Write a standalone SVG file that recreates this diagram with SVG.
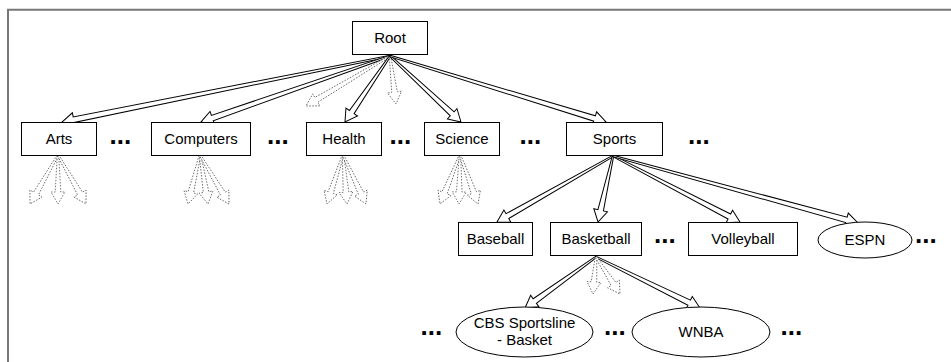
<svg xmlns="http://www.w3.org/2000/svg" width="951" height="362" viewBox="0 0 951 362">
<style>
  .box { fill: #fff; stroke: #000; stroke-width: 1; }
  .lbl { font-family: "Liberation Sans", Arial, sans-serif; font-size: 15px; fill: #000; text-anchor: middle; }
  .dots { font-family: "Liberation Sans", Arial, sans-serif; font-size: 26px; font-weight: bold; fill: #000; }
  .arr { fill: #fff; stroke: #000; stroke-width: 1; stroke-linejoin: miter; }
  .darr { fill: #fff; stroke: #555; stroke-width: 0.8; stroke-dasharray: 1.5 1.5; }
  .frame { stroke: #777; stroke-width: 2; fill: none; }
</style>
<rect width="951" height="362" fill="#fff"/>
<path class="frame" d="M8,362 V9.8 H951"/>

<g id="connectors">
  <!-- Root -->
  <polygon class="arr" transform="translate(390,56) rotate(168.62)" points="0,-0.7 322.6,-2.8 322.6,-7 334.6,0 322.6,7 322.6,2.8 0,0.7"/>
  <polygon class="arr" transform="translate(390,56) rotate(160.75)" points="0,-0.7 188.2,-2.8 188.2,-7 200.2,0 188.2,7 188.2,2.8 0,0.7"/>
  <polygon class="darr" transform="translate(390,56) rotate(149.24)" points="0,-0.7 85.75,-2.8 85.75,-7 97.75,0 85.75,7 85.75,2.8 0,0.7"/>
  <polygon class="arr" transform="translate(390,56) rotate(124.29)" points="0,-0.7 67.9,-2.8 67.9,-7 79.9,0 67.9,7 67.9,2.8 0,0.7"/>
  <polygon class="darr" transform="translate(390,56) rotate(82.87)" points="0,-0.7 36.4,-2.8 36.4,-7 48.4,0 36.4,7 36.4,2.8 0,0.7"/>
  <polygon class="arr" transform="translate(390,56) rotate(42.91)" points="0,-0.7 84.9,-2.8 84.9,-7 96.9,0 84.9,7 84.9,2.8 0,0.7"/>
  <polygon class="arr" transform="translate(390,56) rotate(16.99)" points="0,-0.7 213.9,-2.8 213.9,-7 225.9,0 213.9,7 213.9,2.8 0,0.7"/>
  <!-- Sports -->
  <polygon class="arr" transform="translate(613,156) rotate(150.36)" points="0,-0.7 121.5,-2.8 121.5,-7 133.5,0 121.5,7 121.5,2.8 0,0.7"/>
  <polygon class="arr" transform="translate(613,156) rotate(102.8)" points="0,-0.7 55.7,-2.8 55.7,-7 67.7,0 55.7,7 55.7,2.8 0,0.7"/>
  <polygon class="arr" transform="translate(613,156) rotate(27.46)" points="0,-0.7 131.1,-2.8 131.1,-7 143.1,0 131.1,7 131.1,2.8 0,0.7"/>
  <polygon class="arr" transform="translate(613,156) rotate(15.29)" points="0,-0.7 242,-2.8 242,-7 254,0 242,7 242,2.8 0,0.7"/>
  <!-- Basketball -->
  <polygon class="arr" transform="translate(596,257) rotate(144.31)" points="0,-0.7 75.4,-2.8 75.4,-7 87.4,0 75.4,7 75.4,2.8 0,0.7"/>
  <polygon class="arr" transform="translate(596,257) rotate(26.12)" points="0,-0.7 103.8,-2.8 103.8,-7 115.8,0 103.8,7 103.8,2.8 0,0.7"/>
  <polygon class="darr" transform="translate(596,257) rotate(94.64)" points="0,-0.7 25.1,-2.8 25.1,-7 37.1,0 25.1,7 25.1,2.8 0,0.7"/>
  <polygon class="darr" transform="translate(596,257) rotate(57.03)" points="0,-0.7 32.1,-2.8 32.1,-7 44.1,0 32.1,7 32.1,2.8 0,0.7"/>
  <!-- Arts fan -->
  <polygon class="darr" transform="translate(58,155) rotate(119.74)" points="0,-0.7 44.4,-2.8 44.4,-7 56.4,0 44.4,7 44.4,2.8 0,0.7"/>
  <polygon class="darr" transform="translate(58,155) rotate(90)" points="0,-0.7 37,-2.8 37,-7 49,0 37,7 37,2.8 0,0.7"/>
  <polygon class="darr" transform="translate(58,155) rotate(60.26)" points="0,-0.7 44.4,-2.8 44.4,-7 56.4,0 44.4,7 44.4,2.8 0,0.7"/>
  <!-- Computers fan -->
  <polygon class="darr" transform="translate(200,155) rotate(103.76)" points="0,-0.7 38.4,-2.8 38.4,-7 50.4,0 38.4,7 38.4,2.8 0,0.7"/>
  <polygon class="darr" transform="translate(200,155) rotate(80.73)" points="0,-0.7 37.6,-2.8 37.6,-7 49.6,0 37.6,7 37.6,2.8 0,0.7"/>
  <polygon class="darr" transform="translate(200,155) rotate(59.38)" points="0,-0.7 44.9,-2.8 44.9,-7 56.9,0 44.9,7 44.9,2.8 0,0.7"/>
  <!-- Health fan -->
  <polygon class="darr" transform="translate(343,155) rotate(108.08)" points="0,-0.7 39.5,-2.8 39.5,-7 51.5,0 39.5,7 39.5,2.8 0,0.7"/>
  <polygon class="darr" transform="translate(343,155) rotate(85.33)" points="0,-0.7 37.2,-2.8 37.2,-7 49.2,0 37.2,7 37.2,2.8 0,0.7"/>
  <polygon class="darr" transform="translate(343,155) rotate(64.86)" points="0,-0.7 42.1,-2.8 42.1,-7 54.1,0 42.1,7 42.1,2.8 0,0.7"/>
  <!-- Science fan -->
  <polygon class="darr" transform="translate(460,155) rotate(112.21)" points="0,-0.7 40.9,-2.8 40.9,-7 52.9,0 40.9,7 40.9,2.8 0,0.7"/>
  <polygon class="darr" transform="translate(460,155) rotate(91.17)" points="0,-0.7 37,-2.8 37,-7 49,0 37,7 37,2.8 0,0.7"/>
  <polygon class="darr" transform="translate(460,155) rotate(69.83)" points="0,-0.7 40.2,-2.8 40.2,-7 52.2,0 40.2,7 40.2,2.8 0,0.7"/>
</g>

<g id="root"><rect class="box" x="352.5" y="21.5" width="75" height="33"/><text class="lbl" x="390" y="43">Root</text></g>
<g id="arts"><rect class="box" x="21.5" y="122.5" width="75" height="33"/><text class="lbl" x="59" y="143.5">Arts</text></g>
<g id="computers"><rect class="box" x="151.5" y="122.5" width="99" height="33"/><text class="lbl" x="201" y="143.5">Computers</text></g>
<g id="health"><rect class="box" x="306.5" y="122.5" width="75" height="33"/><text class="lbl" x="344" y="143.5">Health</text></g>
<g id="science"><rect class="box" x="424.5" y="122.5" width="75" height="33"/><text class="lbl" x="462" y="143.5">Science</text></g>
<g id="sports"><rect class="box" x="566.5" y="122.5" width="96" height="33"/><text class="lbl" x="614.5" y="143.5">Sports</text></g>
<g id="baseball"><rect class="box" x="458.5" y="222.5" width="74" height="33"/><text class="lbl" x="495.5" y="244">Baseball</text></g>
<g id="basketball"><rect class="box" x="550.5" y="222.5" width="91" height="33"/><text class="lbl" x="596" y="244">Basketball</text></g>
<g id="volleyball"><rect class="box" x="688.5" y="222.5" width="109" height="33"/><text class="lbl" x="743" y="244">Volleyball</text></g>
<g id="espn"><ellipse class="box" cx="865" cy="240" rx="47" ry="18"/><text class="lbl" x="865" y="245">ESPN</text></g>
<g id="cbs"><ellipse class="box" cx="524.5" cy="332" rx="68.5" ry="25"/><text class="lbl" x="524.5" y="327.5">CBS Sportsline</text><text class="lbl" x="524.5" y="344.5">- Basket</text></g>
<g id="wnba"><ellipse class="box" cx="701" cy="332" rx="69" ry="25"/><text class="lbl" x="701" y="337">WNBA</text></g>

<g id="ellipses">
  <text class="dots" x="109.5" y="143.5">...</text>
  <text class="dots" x="267" y="143.5">...</text>
  <text class="dots" x="389.5" y="143.5">...</text>
  <text class="dots" x="519.5" y="143.5">...</text>
  <text class="dots" x="688" y="143.5">...</text>
  <text class="dots" x="654" y="242.5">...</text>
  <text class="dots" x="915" y="243">...</text>
  <text class="dots" x="420.5" y="335">...</text>
  <text class="dots" x="604" y="335">...</text>
  <text class="dots" x="780.5" y="335">...</text>
</g>
</svg>
